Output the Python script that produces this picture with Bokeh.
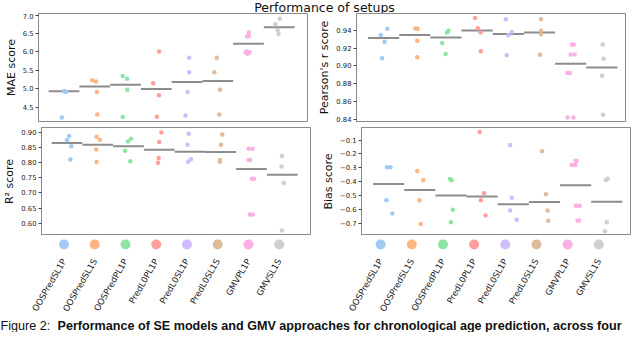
import math
from bokeh.plotting import figure
from bokeh.layouts import column, row
from bokeh.models import Range1d, FixedTicker
from bokeh.embed import file_html
from bokeh.resources import INLINE
from bokeh.core.properties import value

# ---------------- data ----------------
setups = ["OOSPredSL1P", "OOSPredSL1S", "OOSPredPL1P", "PredL0PL1P",
          "PredL0SL1P", "PredL0SL1S", "GMVPL1P", "GMVSL1S"]
colors = ["#a1c9f4", "#ffb482", "#8de5a1", "#ff9f9b",
          "#d0bbff", "#debb9b", "#fab0e4", "#cfcfcf"]

mae_points = [[4.93, 4.92, 4.93, 4.22], [5.23, 5.20, 4.91, 4.30],
              [5.345, 5.27, 4.97, 4.23], [6.01, 5.15, 4.82, 4.24],
              [5.84, 5.45, 4.91, 4.27], [5.84, 5.45, 4.97, 4.30],
              [6.53, 6.43, 6.42, 6.01, 5.99, 5.97, 5.95, 5.99],
              [6.90, 6.75, 6.59, 6.49]]
mae_jitter = [[0.0, 0.06, 0.03, -0.07], [-0.08, 0.04, 0.07, 0.08],
              [-0.09, 0.05, 0.06, -0.09], [0.09, -0.10, 0.09, 0.02],
              [0.07, 0.07, 0.02, -0.05], [-0.03, -0.11, 0.07, 0.05],
              [0.01, 0.01, -0.05, -0.06, -0.09, 0.01, -0.04, 0.03],
              [0.02, -0.12, -0.05, -0.02]]
mae_means = [4.93, 5.06, 5.11, 4.99, 5.18, 5.21, 6.22, 6.67]
mae_ticks = [4.5, 5.0, 5.5, 6.0, 6.5, 7.0]
mae_tick_labels = ["4.5", "5.0", "5.5", "6.0", "6.5", "7.0"]

r_points = [[0.9418, 0.9349, 0.9273, 0.9087], [0.9422, 0.9418, 0.9284, 0.9098],
            [0.9396, 0.9375, 0.9258, 0.9135], [0.9538, 0.9425, 0.9375, 0.9164],
            [0.9524, 0.9382, 0.9345, 0.912], [0.9524, 0.9396, 0.9356, 0.9127],
            [0.924, 0.924, 0.913, 0.913, 0.892, 0.892, 0.842, 0.842],
            [0.924, 0.908, 0.889, 0.845]]
r_jitter = [[0.12, -0.09, 0.03, -0.05], [0.02, 0.09, 0.08, 0.08],
            [0.08, 0.03, -0.12, -0.01], [-0.07, 0.02, 0.11, 0.12],
            [-0.08, 0.11, 0.0, -0.05], [0.05, 0.05, 0.05, 0.02],
            [0.04, 0.10, 0.0, 0.13, -0.10, -0.03, -0.10, 0.09],
            [0.03, 0.06, 0.01, 0.04]]
r_means = [0.9313, 0.9349, 0.932, 0.94, 0.936, 0.9375, 0.9025, 0.8982]
r_ticks = [0.84, 0.86, 0.88, 0.90, 0.92, 0.94]
r_tick_labels = ["0.84", "0.86", "0.88", "0.90", "0.92", "0.94"]

r2_points = [[0.8875, 0.874, 0.854, 0.81], [0.8854, 0.875, 0.8435, 0.8017],
             [0.879, 0.8697, 0.8393, 0.8048], [0.899, 0.8676, 0.8153, 0.80],
             [0.8948, 0.859, 0.811, 0.8027], [0.8927, 0.859, 0.809, 0.8027],
             [0.8456, 0.8456, 0.809, 0.809, 0.7473, 0.7473, 0.629, 0.629],
             [0.8215, 0.787, 0.7326, 0.5768]]
r2_jitter = [[0.07, 0.0, 0.14, 0.11], [-0.04, 0.07, -0.05, -0.04],
             [0.08, -0.02, -0.11, 0.06], [0.07, 0.0, -0.02, -0.04],
             [-0.04, -0.08, 0.03, -0.06], [0.05, 0.01, -0.03, -0.03],
             [-0.09, 0.04, -0.09, -0.05, 0.01, 0.08, -0.05, 0.04],
             [-0.01, -0.02, 0.05, -0.01]]
r2_means = [0.8644, 0.859, 0.854, 0.8425, 0.836, 0.835, 0.7787, 0.76]
r2_ticks = [0.60, 0.65, 0.70, 0.75, 0.80, 0.85, 0.90]
r2_tick_labels = ["0.60", "0.65", "0.70", "0.75", "0.80", "0.85", "0.90"]

bias_points = [[-0.295, -0.295, -0.533, -0.63], [-0.323, -0.39, -0.533, -0.705],
               [-0.381, -0.39, -0.602, -0.693], [-0.042, -0.484, -0.533, -0.644],
               [-0.135, -0.516, -0.607, -0.674], [-0.181, -0.49, -0.607, -0.681],
               [-0.249, -0.25, -0.279, -0.279, -0.574, -0.574, -0.679, -0.679],
               [-0.388, -0.379, -0.693, -0.758]]
bias_jitter = [[-0.05, 0.06, -0.07, 0.12], [-0.08, 0.11, -0.01, 0.03],
               [-0.03, 0.02, 0.06, 0.0], [-0.08, 0.06, -0.04, 0.11],
               [-0.10, -0.05, -0.10, 0.11], [-0.08, 0.05, 0.10, 0.12],
               [0.0, 0.03, -0.12, -0.01, 0.01, 0.13, 0.06, 0.11],
               [-0.03, 0.03, 0.0, -0.06]]
bias_means = [-0.416, -0.46, -0.5, -0.507, -0.563, -0.547, -0.4256, -0.544]
bias_ticks = [-0.7, -0.6, -0.5, -0.4, -0.3, -0.2, -0.1]
bias_tick_labels = ["\u22120.7", "\u22120.6", "\u22120.5", "\u22120.4",
                    "\u22120.3", "\u22120.2", "\u22120.1"]

title_text = "Performance of setups"
caption_lead = "Figure 2:"
caption_bold = ("Performance of SE models and GMV approaches for chronological "
                "age prediction, across four")

# ---------------- style / layout ----------------
FONT = "DejaVu Sans"
FRAME = "#8a8a8a"
MEAN = "#8c8c8c"
BL = 38
FW = 269
FH = 108
TOTAL_W = 624


def make_panel(points, jitter, means, y_lo, y_hi, ticks, tick_labels, ylabel,
               x_lo, x_hi, border_right, border_bottom):
    p = figure(frame_width=FW, frame_height=FH,
               x_range=Range1d(x_lo, x_hi), y_range=Range1d(y_lo, y_hi),
               min_border_left=BL, min_border_right=border_right,
               min_border_top=0, min_border_bottom=border_bottom,
               x_axis_location=None, output_backend="svg",
               toolbar_location=None)
    p.grid.grid_line_color = None
    p.outline_line_color = FRAME
    p.outline_line_width = 1
    idx = list(range(len(setups)))
    p.segment(x0=[i - 0.5 for i in idx], y0=means,
              x1=[i + 0.5 for i in idx], y1=means,
              line_color=MEAN, line_width=2)
    xs, ys, cs = [], [], []
    for i, (vals, jit) in enumerate(zip(points, jitter)):
        for v, j in zip(vals, jit):
            xs.append(i + j)
            ys.append(v)
            cs.append(colors[i])
    p.scatter(xs, ys, size=4.5, fill_color=cs, line_color=None)
    ax = p.yaxis[0]
    ax.ticker = FixedTicker(ticks=ticks)
    ax.major_label_overrides = dict(zip(ticks, tick_labels))
    ax.axis_label = ylabel
    ax.axis_label_text_font = FONT
    ax.axis_label_text_font_size = "11px"
    ax.axis_label_text_font_style = "normal"
    ax.axis_label_text_color = "#111111"
    ax.axis_label_standoff = 2
    ax.major_label_text_font = FONT
    ax.major_label_text_font_size = "6.8px"
    ax.major_label_text_color = "#222222"
    ax.major_label_standoff = 2
    ax.major_tick_out = 3
    ax.major_tick_in = 0
    ax.major_tick_line_color = "#444444"
    ax.minor_tick_line_color = None
    ax.axis_line_color = FRAME
    return p


def make_strip(x_lo, x_hi, border_right):
    s = figure(frame_width=FW, frame_height=16,
               x_range=Range1d(x_lo, x_hi), y_range=Range1d(0, 1),
               min_border_left=BL, min_border_right=border_right,
               min_border_top=0, min_border_bottom=0,
               y_axis_location=None, output_backend="svg",
               toolbar_location=None)
    s.grid.grid_line_color = None
    s.outline_line_color = None
    idx = list(range(len(setups)))
    s.scatter(x=idx, y=[0.44] * len(idx), size=10, fill_color=colors,
              line_color=None)
    ax = s.xaxis[0]
    ax.ticker = FixedTicker(ticks=idx)
    ax.major_label_overrides = {i: n for i, n in enumerate(setups)}
    ax.major_label_orientation = math.pi / 3
    ax.major_label_text_font = FONT
    ax.major_label_text_font_size = "8.6px"
    ax.major_label_text_color = "#222222"
    ax.major_label_standoff = 2
    ax.axis_line_color = None
    ax.major_tick_line_color = None
    ax.minor_tick_line_color = None
    return s


LX = (-0.83, 7.92)
RX = (-0.87, 7.76)

header = figure(width=TOTAL_W, height=13, x_range=Range1d(0, TOTAL_W),
                y_range=Range1d(0, 13), min_border=0,
                x_axis_location=None, y_axis_location=None,
                output_backend="svg", toolbar_location=None)
header.grid.grid_line_color = None
header.outline_line_color = None
header.text(x=[324], y=[6.5], text=[title_text], text_font=value(FONT),
            text_font_size="12.5px", text_align="center",
            text_baseline="middle", text_color="#111111")

tl = make_panel(mae_points, mae_jitter, mae_means, 4.11, 7.044, mae_ticks,
                mae_tick_labels, "MAE score", *LX, 8, 6)
tr = make_panel(r_points, r_jitter, r_means, 0.8375, 0.959, r_ticks,
                r_tick_labels, "Pearson's r score", *RX, 2, 6)
bl = make_panel(r2_points, r2_jitter, r2_means, 0.56, 0.9157, r2_ticks,
                r2_tick_labels, "R\u00b2 score", *LX, 8, 0)
br = make_panel(bias_points, bias_jitter, bias_means, -0.788, -0.009,
                bias_ticks, bias_tick_labels, "Bias score", *RX, 2, 0)
sl = make_strip(*LX, 8)
sr = make_strip(*RX, 2)

caption = figure(width=TOTAL_W, height=14, x_range=Range1d(0, TOTAL_W),
                 y_range=Range1d(0, 14), min_border=0,
                 x_axis_location=None, y_axis_location=None,
                 output_backend="svg", toolbar_location=None)
caption.grid.grid_line_color = None
caption.outline_line_color = None
caption.text(x=[0], y=[7], text=[caption_lead],
             text_font=value("Liberation Sans"), text_font_size="12.6px",
             text_align="left", text_baseline="middle", text_color="#111111")
caption.text(x=[57], y=[7], text=[caption_bold],
             text_font=value("Liberation Sans"), text_font_size="12.6px",
             text_font_style="bold", text_align="left",
             text_baseline="middle", text_color="#111111")

layout = column(header, row(tl, tr), row(bl, br), row(sl, sr), caption)

open("out.html", "w").write(file_html(layout, INLINE))
